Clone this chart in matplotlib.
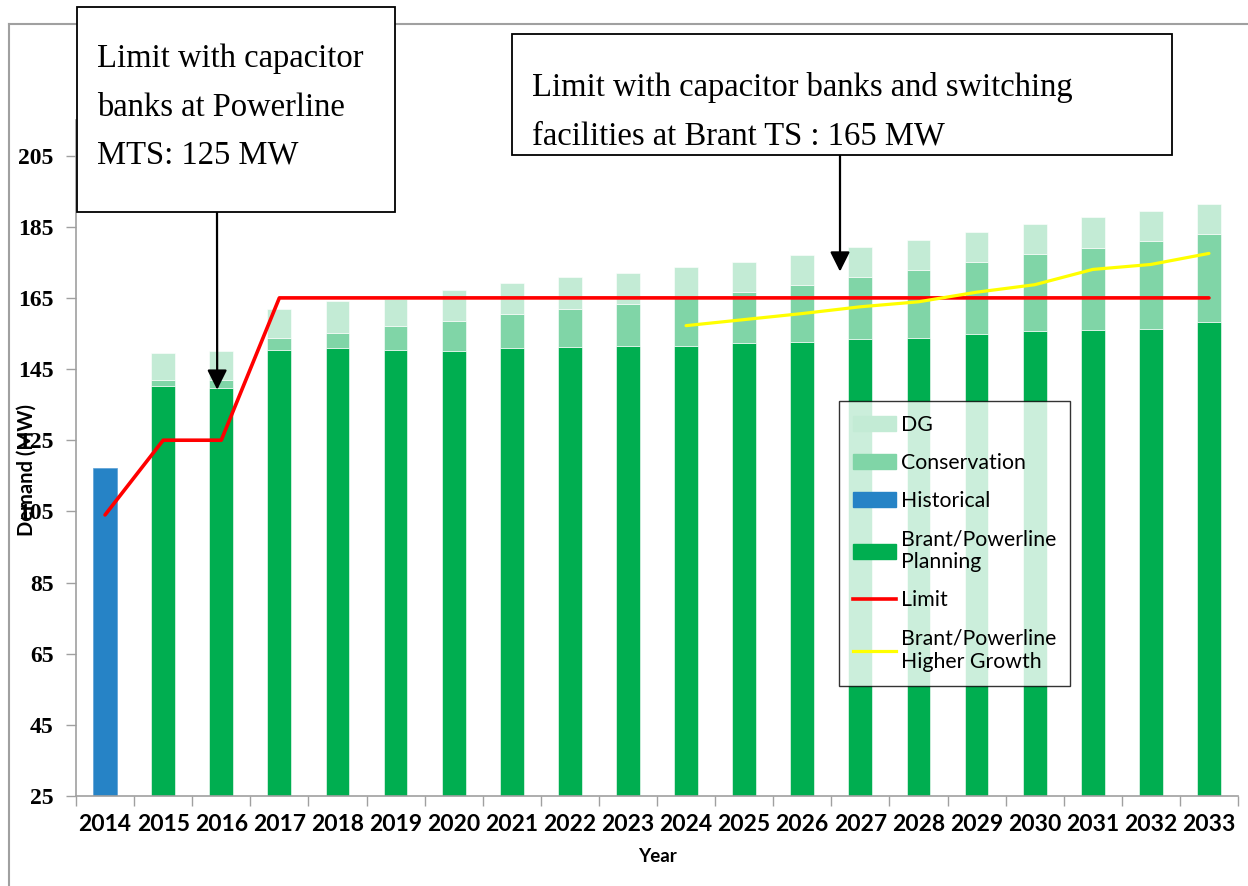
import numpy as np
import matplotlib.pyplot as plt
from matplotlib.patches import Rectangle, Patch
from matplotlib.lines import Line2D

years = [str(y) for y in range(2014, 2034)]

# MW
historical = [117.2] + [np.nan] * 19
planning = [np.nan, 140.3, 139.7, 150.4, 151.0, 150.4, 150.1, 151.0, 151.3, 151.5,
            151.6, 152.4, 152.7, 153.5, 153.8, 154.9, 155.8, 156.0, 156.3, 158.1]
conservation = [np.nan, 1.7, 2.3, 3.4, 4.2, 6.8, 8.5, 9.5, 10.7, 11.9,
                13.6, 14.3, 16.0, 17.5, 19.1, 20.3, 21.6, 23.1, 24.8, 24.9]
dg = [np.nan, 7.6, 8.1, 8.2, 9.0, 7.6, 8.7, 8.8, 9.0, 8.7,
      8.6, 8.5, 8.4, 8.4, 8.5, 8.4, 8.5, 8.7, 8.4, 8.5]
limit = [104, 125, 125, 165, 165, 165, 165, 165, 165, 165,
         165, 165, 165, 165, 165, 165, 165, 165, 165, 165]
higher_growth = [np.nan] * 10 + [157.2, 158.9, 160.6, 162.5, 163.9,
                                 166.6, 168.7, 173.0, 174.4, 177.5]

c_dg = '#C3EBD5'
c_cons = '#80D5A7'
c_hist = '#2683C6'
c_plan = '#00AE50'

W, H = 1248, 886
fig = plt.figure(figsize=(W / 100, H / 100), dpi=100)
ax = fig.add_axes([76 / W, 1 - 796 / H, 1162 / W, 676 / H])

x = np.arange(len(years))
plan = np.array(planning)
cons = np.array(conservation)
bw = 0.41
ax.bar(x, historical, width=bw, color=c_hist, edgecolor='#5A9FD6', lw=0.5, zorder=2)
ax.bar(x, plan, width=bw, color=c_plan, edgecolor='white', lw=0.4, zorder=2)
ax.bar(x, cons, bottom=plan, width=bw, color=c_cons, edgecolor='white', lw=0.4, zorder=2)
ax.bar(x, dg, bottom=plan + cons, width=bw, color=c_dg, edgecolor='white', lw=0.4, zorder=2)
ax.plot(x, limit, color='#FF0000', lw=2.6, zorder=3, solid_capstyle='round')
ax.plot(x, higher_growth, color='#FFFF00', lw=2.3, zorder=3, solid_capstyle='round')

ax.set_xlim(-0.5, len(years) - 0.5)
ax.set_ylim(25, 215)
ax.set_yticks(range(25, 206, 20))
ax.set_xticks(x)
ax.set_xticklabels(years, family='Lato', fontweight='bold', fontsize=16.5)
ax.set_xticks(np.arange(-0.5, len(years), 1), minor=True)
ax.tick_params(axis='x', which='major', length=0, pad=13)
ax.tick_params(axis='x', which='minor', length=7, color='#A0A0A0', width=1)
ax.tick_params(axis='y', length=7, color='#A0A0A0', width=1, pad=9)
for lab in ax.get_yticklabels():
    lab.set_family('Liberation Serif')
    lab.set_fontweight('bold')
    lab.set_fontsize(17)
for s in ['top', 'right']:
    ax.spines[s].set_visible(False)
for s in ['left', 'bottom']:
    ax.spines[s].set_color('#A0A0A0')
    ax.spines[s].set_linewidth(1.2)

ax.set_ylabel('Demand (MW)', family='Lato', fontweight='bold', fontsize=14.5)
ax.yaxis.set_label_coords(-0.034, 0.482)
ax.set_xlabel('Year', family='Lato', fontweight='bold', fontsize=13.5)
ax.xaxis.set_label_coords(0.5, -0.077)

handles = [Patch(color=c_dg), Patch(color=c_cons), Patch(color=c_hist), Patch(color=c_plan),
           Line2D([], [], color='#FF0000', lw=2.6), Line2D([], [], color='#FFFF00', lw=2.3)]
labels = ['DG', 'Conservation', 'Historical', 'Brant/Powerline\nPlanning', 'Limit',
          'Brant/Powerline\nHigher Growth']
leg = ax.legend(handles, labels, loc='upper left', bbox_to_anchor=(0.657, 0.584),
                borderaxespad=0, fancybox=False, frameon=True, edgecolor='black',
                prop={'family': 'Lato', 'size': 15.3}, handlelength=2.0, handletextpad=0.25,
                labelspacing=0.85, borderpad=0.65)
leg.get_frame().set_linewidth(1.0)
leg.set_zorder(6)

# outer chart border (left and top only)
fig.add_artist(Line2D([9 / W, 9 / W], [0, 1 - 24 / H], color='#A0A0A0', lw=1.5))
fig.add_artist(Line2D([9 / W, 1], [1 - 24 / H, 1 - 24 / H], color='#A0A0A0', lw=1.5))

# callout boxes
def box(x0, y0, x1, y1):
    fig.add_artist(Rectangle((x0 / W, 1 - y1 / H), (x1 - x0) / W, (y1 - y0) / H,
                             transform=fig.transFigure, facecolor='white',
                             edgecolor='black', lw=1.3, zorder=10))

box(77, 7, 395, 212)
box(512, 34, 1172, 155)
fig.text(97 / W, 1 - 44 / H, 'Limit with capacitor\nbanks at Powerline\nMTS: 125 MW',
         family='Liberation Serif', fontsize=23.5, va='top', ha='left', linespacing=1.75,
         zorder=11)
fig.text(532 / W, 1 - 72 / H, 'Limit with capacitor banks and switching\nfacilities at Brant TS : 165 MW',
         family='Liberation Serif', fontsize=23.5, va='top', ha='left', linespacing=1.75,
         zorder=11)

arrow = dict(arrowstyle='-|>', color='black', lw=1.6, mutation_scale=30, shrinkA=0, shrinkB=0)
ax.annotate('', xy=(1.93, 139.2), xycoords='data', xytext=(217 / W, 1 - 212 / H),
            textcoords='figure fraction', arrowprops=arrow, zorder=5)
ax.annotate('', xy=(12.65, 172.4), xycoords='data', xytext=(840 / W, 1 - 155 / H),
            textcoords='figure fraction', arrowprops=arrow, zorder=5)

fig.savefig('out.png', dpi=100, facecolor='white')
